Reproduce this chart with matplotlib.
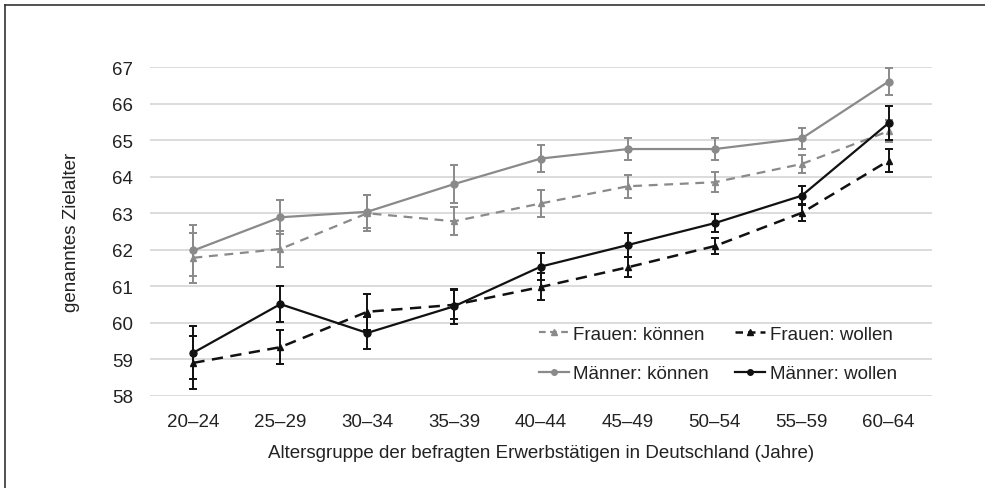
import matplotlib
matplotlib.use("Agg")
import matplotlib.pyplot as plt
from matplotlib.lines import Line2D

plt.rcParams['font.family'] = ['Liberation Sans', 'DejaVu Sans']

categories = ["20–24", "25–29", "30–34", "35–39", "40–44", "45–49", "50–54", "55–59", "60–64"]

frauen_koennen = [61.78, 62.02, 63.00, 62.78, 63.27, 63.74, 63.85, 64.35, 65.25]
frauen_koennen_err = [0.68, 0.48, 0.50, 0.38, 0.38, 0.31, 0.27, 0.26, 0.30]

frauen_wollen = [58.90, 59.33, 60.30, 60.49, 60.98, 61.52, 62.10, 63.01, 64.44]
frauen_wollen_err = [0.73, 0.47, 0.49, 0.40, 0.37, 0.27, 0.22, 0.23, 0.32]

maenner_koennen = [61.98, 62.89, 63.04, 63.80, 64.50, 64.76, 64.76, 65.05, 66.61]
maenner_koennen_err = [0.69, 0.47, 0.45, 0.52, 0.37, 0.30, 0.30, 0.28, 0.38]

maenner_wollen = [59.18, 60.51, 59.72, 60.45, 61.54, 62.13, 62.73, 63.48, 65.47]
maenner_wollen_err = [0.73, 0.49, 0.45, 0.48, 0.38, 0.32, 0.25, 0.26, 0.47]

y_ticks = [58, 59, 60, 61, 62, 63, 64, 65, 66, 67]

GRAY = "#8a8a8a"
BLACK = "#111111"
TXT = "#222222"
FS = 13.5

W, H = 985, 489
fig = plt.figure(figsize=(W / 100, H / 100), dpi=100)
ax = fig.add_axes([150 / W, 1 - 396.7 / H, (932 - 150) / W, (396.7 - 68.3) / H])

x = list(range(len(categories)))

common = dict(capsize=2.6, elinewidth=1.4, capthick=1.4, markersize=5)

ax.errorbar(x, frauen_koennen, yerr=frauen_koennen_err, color=GRAY, marker="^",
            linestyle=(0, (4, 3)), linewidth=1.6, zorder=3, **common)
ax.errorbar(x, frauen_wollen, yerr=frauen_wollen_err, color=BLACK, marker="^",
            linestyle=(0, (4.5, 3)), linewidth=1.8, zorder=4, **common)
ax.errorbar(x, maenner_koennen, yerr=maenner_koennen_err, color=GRAY, marker="o",
            linestyle="-", linewidth=1.6, zorder=3, **common)
ax.errorbar(x, maenner_wollen, yerr=maenner_wollen_err, color=BLACK, marker="o",
            linestyle="-", linewidth=1.6, zorder=4, **common)

ax.set_xlim(-0.5, len(categories) - 0.5)
ax.set_ylim(58, 67)
ax.set_yticks(y_ticks)
ax.set_xticks(x)
ax.set_xticklabels(categories)
ax.grid(axis="y", color="#d9d9d9", linewidth=1.3)
ax.set_axisbelow(True)
for s in ax.spines.values():
    s.set_visible(False)
ax.tick_params(axis="both", length=0, labelsize=FS, colors=TXT)
ax.tick_params(axis="y", pad=12)
ax.tick_params(axis="x", pad=12.5)

ax.set_xlabel("Altersgruppe der befragten Erwerbstätigen in Deutschland (Jahre)",
              fontsize=FS, color=TXT, labelpad=10)
ax.set_ylabel("genanntes Zielalter", fontsize=FS, color=TXT, labelpad=23)

handles = [
    Line2D([], [], color=GRAY, marker="^", markersize=4, linestyle=(0, (3, 2)), linewidth=1.6),
    Line2D([], [], color=GRAY, marker="o", markersize=4, linestyle="-", linewidth=1.6),
    Line2D([], [], color=BLACK, marker="^", markersize=4, linestyle=(0, (3, 2)), linewidth=1.8),
    Line2D([], [], color=BLACK, marker="o", markersize=4, linestyle="-", linewidth=1.6),
]
labels = ["Frauen: können", "Männer: können", "Frauen: wollen", "Männer: wollen"]
fig.legend(handles, labels, ncol=2, loc="center", bbox_to_anchor=(718 / W, 1 - 355 / H),
           frameon=False, fontsize=FS, handlelength=1.6, handletextpad=0.25,
           columnspacing=1.4, labelspacing=1.2, borderpad=0, labelcolor=TXT)

# frame around figure (cropped)
fig.add_artist(Line2D([5 / W, 5 / W], [0, 1 - 6 / H], color="#333333", linewidth=1.2,
                      transform=fig.transFigure))
fig.add_artist(Line2D([5 / W, 1], [1 - 6 / H, 1 - 6 / H], color="#333333", linewidth=1.2,
                      transform=fig.transFigure))

fig.savefig("out.png", dpi=100)
